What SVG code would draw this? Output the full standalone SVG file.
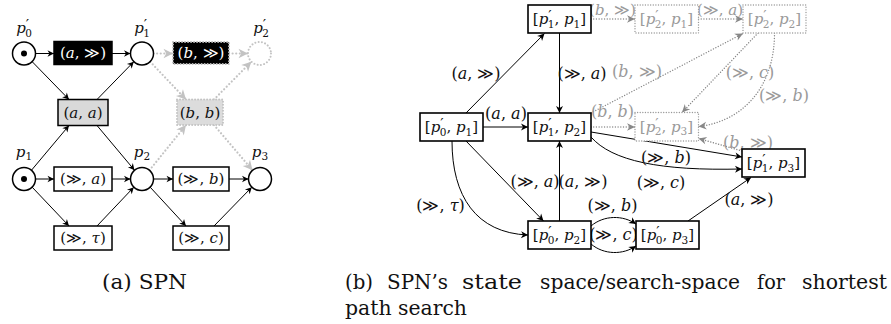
<svg xmlns="http://www.w3.org/2000/svg" width="891" height="324" viewBox="0 0 891 324">
<style>
.t{font-family:'DejaVu Serif',serif;font-size:15px;fill:#111;text-anchor:middle}
.el{font-size:16px}
.top{font-size:15px}
.i{font-style:italic}
.s{font-size:10.5px}
.pr{font-size:15px}
.w{fill:#fff}
.g{fill:#9a9a9a}
.cap{font-family:'DejaVu Serif',serif;font-size:20px;fill:#111}
.place{fill:#fff;stroke:#000;stroke-width:1.5}
.gplace{fill:#fff;stroke:#c3c3c3;stroke-width:2;stroke-dasharray:0.01 3.3;stroke-linecap:round}
.tr{fill:#fff;stroke:#000;stroke-width:1.5}
.arc{stroke:#000;stroke-width:1;fill:none;marker-end:url(#ah)}
.garc{stroke:#c3c3c3;stroke-width:2.2;stroke-dasharray:0.01 3.6;stroke-linecap:round;fill:none;marker-end:url(#gah)}
.st{fill:#fff;stroke:#000;stroke-width:1.6}
.gst{fill:#fff;stroke:#999;stroke-width:1.4;stroke-dasharray:0.01 2.6;stroke-linecap:round}
.e{stroke:#000;stroke-width:1;fill:none;marker-end:url(#bh)}
.ge{stroke:#888;stroke-width:1.4;stroke-dasharray:0.01 2.7;stroke-linecap:round;fill:none;marker-end:url(#gbh)}
</style>
<defs>
<marker id="ah" viewBox="-8 -4 9 8" refX="0" refY="0" markerWidth="9" markerHeight="8" orient="auto" markerUnits="userSpaceOnUse"><path d="M0,0 L-6.5,-3.3 L-4.6,0 L-6.5,3.3 Z" fill="#000"/></marker>
<marker id="gah" viewBox="-11 -6 12 12" refX="0" refY="0" markerWidth="12" markerHeight="12" orient="auto" markerUnits="userSpaceOnUse"><path d="M0,0 L-9.5,-4.8 L-6.8,0 L-9.5,4.8 Z" fill="#c3c3c3"/></marker>
<marker id="bh" viewBox="-8 -4 9 8" refX="0" refY="0" markerWidth="9" markerHeight="8" orient="auto" markerUnits="userSpaceOnUse"><path d="M0,0 L-7,-3.5 L-5,0 L-7,3.5 Z" fill="#000"/></marker>
<marker id="gbh" viewBox="-10 -5 11 10" refX="0" refY="0" markerWidth="11" markerHeight="10" orient="auto" markerUnits="userSpaceOnUse"><path d="M0,0 L-8,-3.8 L-5.6,0 L-8,3.8 Z" fill="#888"/></marker>
</defs>

<!-- (a) SPN connectors -->
<g id="arcs-a">
<path class="arc" d="M35.5,53.5 L54,53.5"/>
<path class="arc" d="M112,53.5 L130.5,53.5"/>
<path class="garc" d="M153.5,53.5 L173,53.5"/>
<path class="garc" d="M229,53.5 L248,53.5"/>
<path class="arc" d="M32.2,61.7 L69,99.5"/>
<path class="arc" d="M97,99.5 L133.8,61.7"/>
<path class="arc" d="M31.5,170.2 L69,125.5"/>
<path class="arc" d="M97,125.5 L134.5,170.2"/>
<path class="garc" d="M150.2,61.7 L186,99.5"/>
<path class="garc" d="M214,99.5 L251.3,61.7"/>
<path class="garc" d="M149.5,170.2 L186,125"/>
<path class="garc" d="M214,125 L252.5,170.2"/>
<path class="arc" d="M35.5,179 L54,179"/>
<path class="arc" d="M112,179 L130.5,179"/>
<path class="arc" d="M153.5,179 L173,179"/>
<path class="arc" d="M229,179 L248.5,179"/>
<path class="arc" d="M32.2,187.2 L69,226"/>
<path class="arc" d="M97,226 L133.8,187.2"/>
<path class="arc" d="M150.2,187.2 L186,226"/>
<path class="arc" d="M214,226 L251.8,187.2"/>
</g>

<!-- (a) places -->
<g id="place-p0p">
<circle class="place" cx="24" cy="53.5" r="11.5"/><circle cx="24" cy="53.5" r="3" fill="#000"/>
<text class="t" x="24" y="33"><tspan class="i">p</tspan><tspan class="pr" dy="-3">′</tspan><tspan class="s" dx="-4" dy="7">0</tspan></text>
</g>
<g id="place-p1p">
<circle class="place" cx="142" cy="53.5" r="11.5"/>
<text class="t" x="142" y="33"><tspan class="i">p</tspan><tspan class="pr" dy="-3">′</tspan><tspan class="s" dx="-4" dy="7">1</tspan></text>
</g>
<g id="place-p2p">
<circle class="gplace" cx="259.5" cy="53.5" r="11.5"/>
<text class="t" x="261" y="33"><tspan class="i">p</tspan><tspan class="pr" dy="-3">′</tspan><tspan class="s" dx="-4" dy="7">2</tspan></text>
</g>
<g id="place-p1">
<circle class="place" cx="24" cy="179" r="11.5"/><circle cx="24" cy="179" r="3" fill="#000"/>
<text class="t" x="24" y="157"><tspan class="i">p</tspan><tspan class="s" dy="3">1</tspan></text>
</g>
<g id="place-p2">
<circle class="place" cx="142" cy="179" r="11.5"/>
<text class="t" x="142" y="157"><tspan class="i">p</tspan><tspan class="s" dy="3">2</tspan></text>
</g>
<g id="place-p3">
<circle class="place" cx="260" cy="179" r="11.5"/>
<text class="t" x="260" y="157"><tspan class="i">p</tspan><tspan class="s" dy="3">3</tspan></text>
</g>

<!-- (a) transitions -->
<g id="tr-a-gg">
<rect x="54" y="41.5" width="58" height="23" fill="#000" stroke="#000" stroke-width="1.5"/>
<text class="t w" x="83" y="58">(<tspan class="i">a</tspan>, ≫)</text>
</g>
<g id="tr-b-gg">
<rect x="173" y="42" width="56" height="22" fill="#000" stroke="#bdbdbd" stroke-width="2" stroke-dasharray="0.01 3" stroke-linecap="round"/>
<text class="t w" x="201" y="58">(<tspan class="i">b</tspan>, ≫)</text>
</g>
<g id="tr-a-a">
<rect x="58" y="99.5" width="50" height="26" fill="#d9d9d9" stroke="#000" stroke-width="1.5"/>
<text class="t" x="83" y="117.5">(<tspan class="i">a</tspan>, <tspan class="i">a</tspan>)</text>
</g>
<g id="tr-b-b">
<rect x="177" y="99.5" width="46" height="25.5" fill="#dcdcdc" stroke="#c3c3c3" stroke-width="2" stroke-dasharray="0.01 3" stroke-linecap="round"/>
<text class="t" x="200" y="117.5" fill="#333">(<tspan class="i">b</tspan>, <tspan class="i">b</tspan>)</text>
</g>
<g id="tr-gg-a">
<rect class="tr" x="54" y="167" width="58" height="24"/>
<text class="t" x="83" y="184">(≫, <tspan class="i">a</tspan>)</text>
</g>
<g id="tr-gg-b">
<rect class="tr" x="173" y="167" width="56" height="24"/>
<text class="t" x="201" y="184">(≫, <tspan class="i">b</tspan>)</text>
</g>
<g id="tr-gg-tau">
<rect class="tr" x="54" y="226" width="58" height="24"/>
<text class="t" x="83" y="243">(≫, <tspan class="i">τ</tspan>)</text>
</g>
<g id="tr-gg-c">
<rect class="tr" x="173" y="226" width="56" height="24"/>
<text class="t" x="201" y="243">(≫, <tspan class="i">c</tspan>)</text>
</g>

<!-- (b) connectors -->
<g id="edges-b">
<path class="e" d="M466,113 L544.5,33.5"/>
<path class="e" d="M559.5,33 L559.5,113"/>
<path class="e" d="M483,127 L528,127"/>
<path class="e" d="M466,141 L543.5,221"/>
<path class="e" d="M559.5,221 L559.5,141"/>
<path class="e" d="M452,141 C452,196 476,233 528,235"/>
<path class="e" d="M591,226 C604,215 623,215 636,224"/>
<path class="e" d="M591,244 C604,255 623,255 636,246"/>
<path class="e" d="M688,221 L751,177.5"/>
<path class="e" d="M591,132 L742,157"/>
<path class="e" d="M591,137 C612,161 660,171 742,169"/>
<path class="ge" d="M591,19 L635,19"/>
<path class="ge" d="M698.5,19 L743,19"/>
<path class="ge" d="M591,113 L743,33.5"/>
<path class="ge" d="M591,127 L635,127"/>
<path class="ge" d="M758,33 L682,112.5"/>
<path class="ge" d="M774.5,33 C774.5,90 740,122 698.5,126.5"/>
<path class="ge" d="M742,151 L698.5,138.5"/>
<g id="edge-labels">
<text class="t el" x="476" y="78.5">(<tspan class="i">a</tspan>, ≫)</text>
<text class="t el" x="582" y="78.5">(≫, <tspan class="i">a</tspan>)</text>
<text class="t el" x="506" y="119">(<tspan class="i">a</tspan>, <tspan class="i">a</tspan>)</text>
<text class="t el" x="535" y="186.5">(≫, <tspan class="i">a</tspan>)</text>
<text class="t el" x="583" y="186.5">(<tspan class="i">a</tspan>, ≫)</text>
<text class="t el" x="440.5" y="211">(≫, <tspan class="i">τ</tspan>)</text>
<text class="t el" x="612.5" y="211">(≫, <tspan class="i">b</tspan>)</text>
<text class="t el" x="613.5" y="240">(≫, <tspan class="i">c</tspan>)</text>
<text class="t el" x="749" y="205">(<tspan class="i">a</tspan>, ≫)</text>
<text class="t el" x="666" y="163">(≫, <tspan class="i">b</tspan>)</text>
<text class="t el" x="661" y="188">(≫, <tspan class="i">c</tspan>)</text>
<text class="t top g" x="612.5" y="14.5">(<tspan class="i">b</tspan>, ≫)</text>
<text class="t top g" x="720" y="14.5">(≫, <tspan class="i">a</tspan>)</text>
<text class="t el g" x="637" y="77">(<tspan class="i">b</tspan>, ≫)</text>
<text class="t el g" x="612.5" y="116.5">(<tspan class="i">b</tspan>, <tspan class="i">b</tspan>)</text>
<text class="t el g" x="750" y="78">(≫, <tspan class="i">c</tspan>)</text>
<text class="t el g" x="784" y="101">(≫, <tspan class="i">b</tspan>)</text>
<text class="t el g" x="748" y="148">(<tspan class="i">b</tspan>, ≫)</text>
</g>
</g>

<!-- (b) states -->
<g id="s-p1p-p1">
<rect class="st" x="528" y="5" width="63" height="28"/>
<text class="t" x="559.5" y="24">[<tspan class="i">p</tspan><tspan class="pr" dy="-3">′</tspan><tspan class="s" dx="-4" dy="6.5">1</tspan><tspan dy="-3.5">, </tspan><tspan class="i">p</tspan><tspan class="s" dy="3.5">1</tspan><tspan dy="-3.5">]</tspan></text>
</g>
<g id="s-p0p-p1">
<rect class="st" x="420" y="113" width="63" height="28"/>
<text class="t" x="451.5" y="132">[<tspan class="i">p</tspan><tspan class="pr" dy="-3">′</tspan><tspan class="s" dx="-4" dy="6.5">0</tspan><tspan dy="-3.5">, </tspan><tspan class="i">p</tspan><tspan class="s" dy="3.5">1</tspan><tspan dy="-3.5">]</tspan></text>
</g>
<g id="s-p1p-p2">
<rect class="st" x="528" y="113" width="63" height="28"/>
<text class="t" x="559.5" y="132">[<tspan class="i">p</tspan><tspan class="pr" dy="-3">′</tspan><tspan class="s" dx="-4" dy="6.5">1</tspan><tspan dy="-3.5">, </tspan><tspan class="i">p</tspan><tspan class="s" dy="3.5">2</tspan><tspan dy="-3.5">]</tspan></text>
</g>
<g id="s-p0p-p2">
<rect class="st" x="528" y="221" width="63" height="28"/>
<text class="t" x="559.5" y="240">[<tspan class="i">p</tspan><tspan class="pr" dy="-3">′</tspan><tspan class="s" dx="-4" dy="6.5">0</tspan><tspan dy="-3.5">, </tspan><tspan class="i">p</tspan><tspan class="s" dy="3.5">2</tspan><tspan dy="-3.5">]</tspan></text>
</g>
<g id="s-p0p-p3">
<rect class="st" x="636" y="221" width="63" height="28"/>
<text class="t" x="667.5" y="240">[<tspan class="i">p</tspan><tspan class="pr" dy="-3">′</tspan><tspan class="s" dx="-4" dy="6.5">0</tspan><tspan dy="-3.5">, </tspan><tspan class="i">p</tspan><tspan class="s" dy="3.5">3</tspan><tspan dy="-3.5">]</tspan></text>
</g>
<g id="s-p1p-p3">
<rect class="st" x="742" y="149" width="63" height="28"/>
<text class="t" x="773.5" y="168">[<tspan class="i">p</tspan><tspan class="pr" dy="-3">′</tspan><tspan class="s" dx="-4" dy="6.5">1</tspan><tspan dy="-3.5">, </tspan><tspan class="i">p</tspan><tspan class="s" dy="3.5">3</tspan><tspan dy="-3.5">]</tspan></text>
</g>
<g id="s-p2p-p1">
<rect class="gst" x="635" y="5" width="63.5" height="28"/>
<text class="t g" x="666.5" y="24">[<tspan class="i">p</tspan><tspan class="pr" dy="-3">′</tspan><tspan class="s" dx="-4" dy="6.5">2</tspan><tspan dy="-3.5">, </tspan><tspan class="i">p</tspan><tspan class="s" dy="3.5">1</tspan><tspan dy="-3.5">]</tspan></text>
</g>
<g id="s-p2p-p2">
<rect class="gst" x="743" y="5" width="63" height="28"/>
<text class="t g" x="774.5" y="24">[<tspan class="i">p</tspan><tspan class="pr" dy="-3">′</tspan><tspan class="s" dx="-4" dy="6.5">2</tspan><tspan dy="-3.5">, </tspan><tspan class="i">p</tspan><tspan class="s" dy="3.5">2</tspan><tspan dy="-3.5">]</tspan></text>
</g>
<g id="s-p2p-p3">
<rect class="gst" x="635" y="112.5" width="63.5" height="28.5"/>
<text class="t g" x="666.5" y="131.5">[<tspan class="i">p</tspan><tspan class="pr" dy="-3">′</tspan><tspan class="s" dx="-4" dy="6.5">2</tspan><tspan dy="-3.5">, </tspan><tspan class="i">p</tspan><tspan class="s" dy="3.5">3</tspan><tspan dy="-3.5">]</tspan></text>
</g>

<!-- captions -->
<g id="captions">
<text class="cap" x="102" y="289" textLength="85" lengthAdjust="spacingAndGlyphs">(a) SPN</text>
<text class="cap" x="345" y="289" textLength="28" lengthAdjust="spacingAndGlyphs">(b)</text>
<text class="cap" x="387" y="289" textLength="61" lengthAdjust="spacingAndGlyphs">SPN’s</text>
<text class="cap" x="462" y="289" textLength="60" lengthAdjust="spacingAndGlyphs">state</text>
<text class="cap" x="540" y="289" textLength="200" lengthAdjust="spacingAndGlyphs">space/search-space</text>
<text class="cap" x="757" y="289" textLength="28" lengthAdjust="spacingAndGlyphs">for</text>
<text class="cap" x="802" y="289" textLength="85" lengthAdjust="spacingAndGlyphs">shortest</text>
<text class="cap" x="345" y="315" textLength="122" lengthAdjust="spacingAndGlyphs">path search</text>
</g>
</svg>
